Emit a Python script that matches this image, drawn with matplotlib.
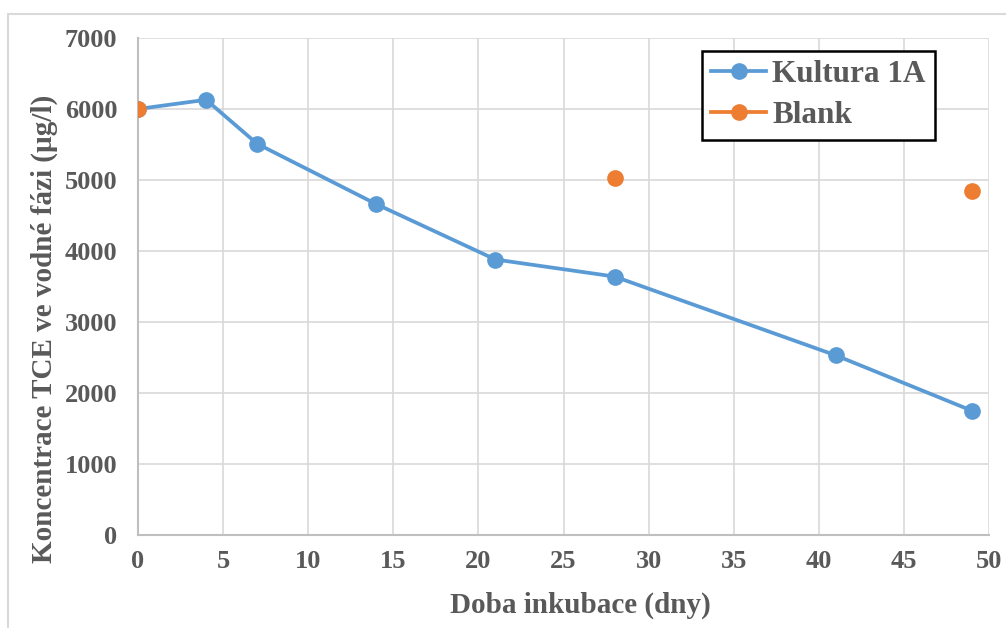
import matplotlib.pyplot as plt
from matplotlib.patches import Rectangle

# data
days_a = [0, 4, 7, 14, 21, 28, 41, 49]
conc_a = [6000, 6130, 5510, 4660, 3880, 3640, 2530, 1750]
days_blank = [0, 28, 49]
conc_blank = [6000, 5030, 4850]

plt.rcParams['font.family'] = ['Liberation Serif', 'DejaVu Serif']
plt.rcParams['font.weight'] = 'bold'

fig = plt.figure(figsize=(10.06, 6.28), dpi=100)
ax = fig.add_axes([0.1372, 0.1481, 0.8459, 0.7914])

# outer chart frame
fig.patches.append(Rectangle((8/1006, -0.05), 1.2, 1 - 14/628 + 0.05, transform=fig.transFigure,
                             fill=False, edgecolor='#d9d9d9', linewidth=1.5))

ax.plot(days_a, conc_a, color='#5B9BD5', lw=2.7, marker='o', ms=11, label='Kultura 1A', zorder=3)
ax.plot(days_blank, conc_blank, color='#ED7D31', lw=0, marker='o', ms=11, label='Blank', zorder=4)

ax.set_xlim(0, 50)
ax.set_ylim(0, 7000)
ax.set_xticks(range(0, 51, 5))
ax.set_yticks(range(0, 7001, 1000))
ax.grid(True, color='#d9d9d9', lw=1.2)
ax.set_axisbelow(True)
for s in ['top', 'right']:
    ax.spines[s].set_visible(False)
for s in ['left', 'bottom']:
    ax.spines[s].set_color('#bfbfbf')
    ax.spines[s].set_linewidth(1.5)
ax.tick_params(axis='y', length=0, labelsize=19, labelcolor='#595959', pad=15)
ax.tick_params(axis='x', length=0, labelsize=19, labelcolor='#595959', pad=11)
for t in ax.get_xticklabels() + ax.get_yticklabels():
    t.set_fontweight('bold')

ax.set_xlabel('Doba inkubace (dny)', fontsize=21, fontweight='bold', color='#595959')
ax.set_ylabel('Koncentrace TCE ve vodné fázi (µg/l)', fontsize=21, fontweight='bold', color='#595959')
ax.xaxis.set_label_coords(0.52, -0.115)
ax.yaxis.set_label_coords(-0.094, 0.414)

leg = ax.legend(loc='upper right', bbox_to_anchor=(0.9366, 0.974), borderaxespad=0, frameon=True,
                fancybox=False, edgecolor='black', framealpha=1, handlelength=1.75, borderpad=0.3,
                labelspacing=0.38, handletextpad=0.2, prop={'weight': 'bold', 'size': 22.5})
leg.get_frame().set_linewidth(1.8)
for t in leg.get_texts():
    t.set_color('#595959')
# show line on Blank legend handle like Excel
leg.legend_handles[1].set_linewidth(2.7)

fig.savefig('out.png', dpi=100)
